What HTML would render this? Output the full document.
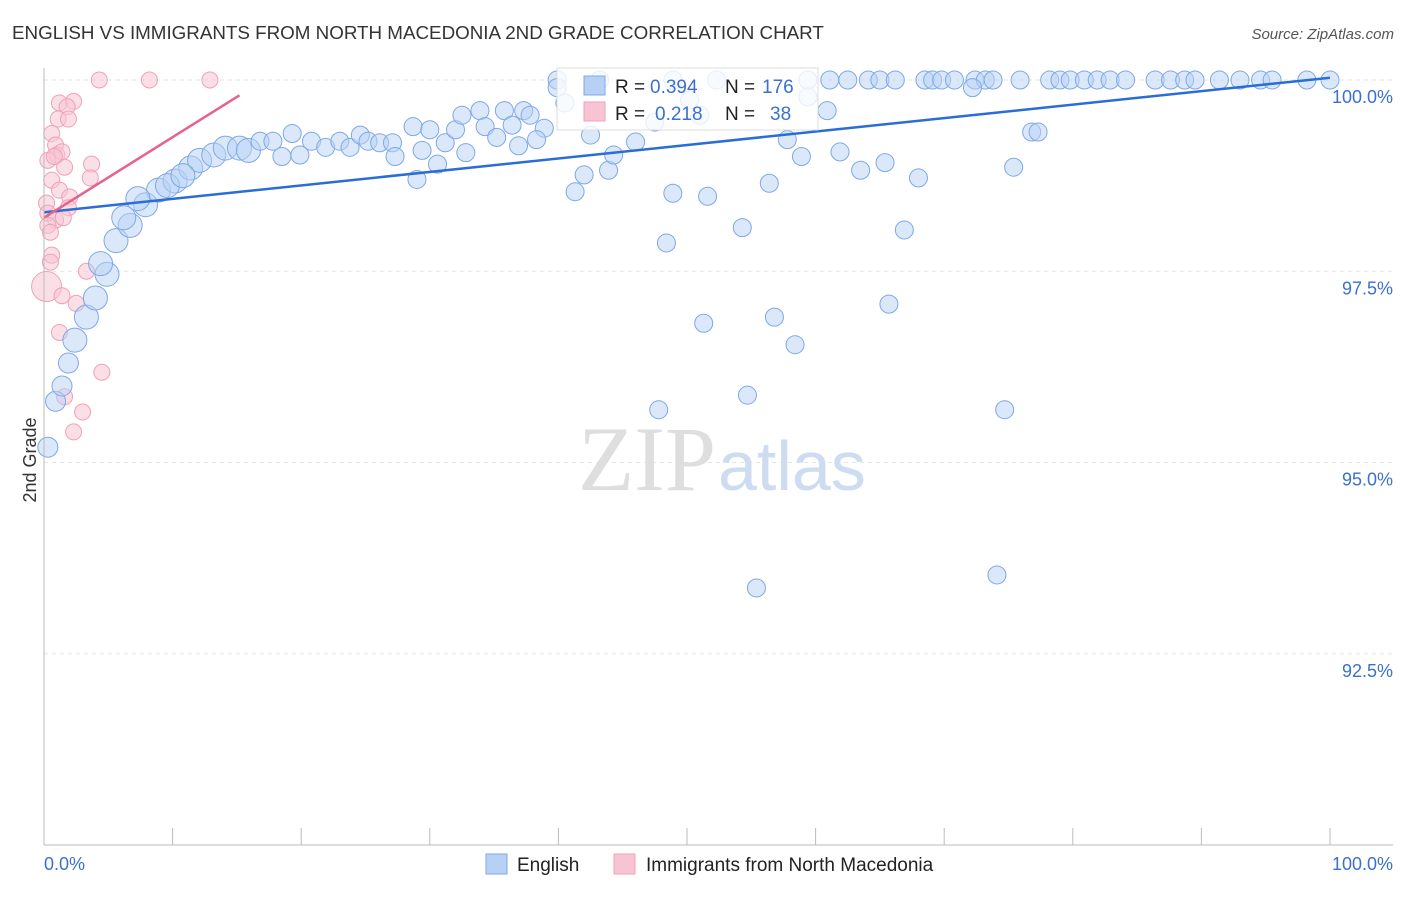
<!DOCTYPE html>
<html><head><meta charset="utf-8"><style>
body{margin:0;background:#fff;font-family:"Liberation Sans",sans-serif;}
</style></head><body>
<svg width="1406" height="892" xmlns="http://www.w3.org/2000/svg" style="font-family:'Liberation Sans',sans-serif">
<text x="12" y="39" font-size="18.8" fill="#333">ENGLISH VS IMMIGRANTS FROM NORTH MACEDONIA 2ND GRADE CORRELATION CHART</text>
<text x="1394" y="39" font-size="15" fill="#555" text-anchor="end" font-style="italic">Source: ZipAtlas.com</text>
<g id="grid"></g>
<text x="716" y="490" font-size="92" fill="#dedede" text-anchor="end" font-family="'Liberation Serif',serif">ZIP</text>
<text x="718" y="490" font-size="70" fill="#cddcf0">atlas</text>
<g id="pts"></g>
<g id="axes"></g>
<text x="36" y="460" font-size="18" fill="#333" text-anchor="middle" transform="rotate(-90 36 460)">2nd Grade</text>
<g>
<rect x="557" y="68" width="261" height="62" fill="#fff" fill-opacity="0.8" stroke="#ddd"/>
<rect x="584" y="76" width="21" height="19" fill="#b7d1f5" stroke="#7ea8e6"/>
<rect x="584" y="102" width="21" height="19" fill="#f8c4d3" stroke="#f0a0b8"/>
<text x="615" y="93" font-size="19" fill="#222">R =</text>
<text x="650" y="93" font-size="19" fill="#3a70d0">0.394</text>
<text x="725" y="93" font-size="19" fill="#222">N =</text>
<text x="762" y="93" font-size="19" fill="#3a70d0">176</text>
<text x="615" y="120" font-size="19" fill="#222">R =</text>
<text x="655" y="120" font-size="19" fill="#3a70d0">0.218</text>
<text x="725" y="120" font-size="19" fill="#222">N =</text>
<text x="770" y="120" font-size="19" fill="#3a70d0">38</text>
</g>
<g>
<rect x="486" y="854" width="21" height="20" fill="#b7d1f5" stroke="#7ea8e6"/>
<text x="517" y="871" font-size="19" fill="#222">English</text>
<rect x="614" y="854" width="21" height="20" fill="#f8c4d3" stroke="#f0a0b8"/>
<text x="646" y="871" font-size="19" fill="#222">Immigrants from North Macedonia</text>
</g>
</svg>
<script>
const yTicks=[100,97.5,95,92.5];
const yTickLabels=["100.0%","97.5%","95.0%","92.5%"];
const blueX=[39.9,43.2,48.9,52.3,59.4,61.1,62.5,64.1,65.0,66.2,68.5,69.1,69.8,70.8,72.4,73.2,73.8,75.9,78.2,79.0,79.8,80.9,81.9,82.9,84.1,86.4,87.6,88.7,89.5,91.4,93.0,94.6,95.5,98.2,100,
0.3,0.9,1.4,1.9,2.4,3.3,4.0,4.9,4.4,5.6,6.7,7.9,8.9,10.2,11.4,12.1,13.2,14.1,15.2,15.9,16.8,17.8,18.5,19.3,19.9,20.8,21.9,23.0,23.8,24.6,25.2,26.1,27.1,27.3,28.7,29.0,29.4,30.0,30.6,31.2,32.0,32.5,32.8,33.9,34.3,35.2,35.8,36.4,36.9,37.3,37.8,38.9,38.3,39.9,40.5,41.3,42.0,42.5,43.9,44.3,46.0,47.5,48.4,48.9,50.2,51.3,51.6,54.3,54.7,55.4,56.4,56.8,57.8,58.4,58.9,59.4,60.9,61.9,63.5,65.4,65.7,66.9,68.0,72.2,74.1,74.7,75.4,76.8,77.3,47.8,51.0,7.3,9.6,10.8,6.2];
const blueY=[100,100,100,100,100,100,100,100,100,100,100,100,100,100,100,100,100,100,100,100,100,100,100,100,100,100,100,100,100,100,100,100,100,100,100,
95.2,95.8,96.0,96.3,96.6,96.9,97.15,97.46,97.6,97.9,98.1,98.37,98.56,98.68,98.85,98.95,99.02,99.11,99.11,99.08,99.2,99.2,99.0,99.3,99.02,99.2,99.12,99.2,99.12,99.28,99.2,99.18,99.18,99.0,99.39,98.7,99.08,99.35,98.9,99.18,99.35,99.54,99.05,99.6,99.39,99.25,99.6,99.41,99.14,99.6,99.54,99.37,99.22,99.9,99.7,98.54,98.76,99.28,98.82,99.02,99.19,99.45,97.87,98.52,99.74,96.82,98.48,98.07,95.88,93.36,98.65,96.9,99.22,96.54,99.0,99.78,99.6,99.06,98.82,98.92,97.07,98.04,98.72,99.9,93.53,95.69,98.86,99.32,99.32,95.69,99.54,98.45,98.62,98.75,98.2];
const pinkX=[4.3,8.2,12.9,1.2,2.3,1.8,1.1,1.9,0.6,0.9,1.0,1.4,3.7,1.6,3.6,0.6,1.2,2.0,1.9,0.2,0.3,0.9,0.3,0.5,0.6,0.5,3.3,0.2,1.4,2.5,1.2,4.5,1.6,3.0,2.3,0.3,0.8,1.5];
const pinkY=[100,100,100,99.7,99.72,99.65,99.49,99.49,99.3,99.15,99.02,99.06,98.9,98.86,98.72,98.69,98.56,98.47,98.33,98.39,98.26,98.17,98.1,98.01,97.71,97.62,97.5,97.3,97.18,97.08,96.7,96.18,95.86,95.66,95.4,98.95,99.0,98.2];
const blueTrend=[98.27,100.03];
const pinkTrend=[98.2,99.8,15.2];
const X=v=>44+v*12.86, Y=v=>80+(100-v)*76.5;
const NS="http://www.w3.org/2000/svg";
function mk(tag,attrs,parent){const e=document.createElementNS(NS,tag);for(const k in attrs)e.setAttribute(k,attrs[k]);parent.appendChild(e);return e;}
const grid=document.getElementById('grid'),axes=document.getElementById('axes'),pts=document.getElementById('pts');
yTicks.forEach((t,i)=>{
 const l=mk('line',{x1:44,x2:1393,y1:Y(t),y2:Y(t),stroke:'#e4e4e4','stroke-dasharray':'4,4'},grid);
 
 
 const tx=mk('text',{x:1393,y:Y(t)+23,'font-size':18,fill:'#3a70d0','text-anchor':'end'},axes);
 tx.textContent=yTickLabels[i];
 
 
});
const xa=mk('line',{x1:44,x2:1393,y1:845,y2:845,stroke:'#bbb'},axes);


const ya=mk('line',{x1:44,x2:44,y1:68,y2:845,stroke:'#bbb'},axes);


for(let i=0;i<=10;i++){const t=mk('line',{x1:X(i*10),x2:X(i*10),y1:828,y2:845,stroke:'#bbb'},axes);
 
 }
[["0.0%",44,'start'],["100.0%",1393,'end']].forEach(a=>{const t=mk('text',{x:a[1],y:870,'font-size':18,fill:'#3a70d0','text-anchor':a[2]},axes);t.textContent=a[0];
 
 });
pinkX.forEach((x,i)=>{const r=(x<0.5&&pinkY[i]<97.5&&pinkY[i]>97.1)?15:8;
 const c=mk('circle',{cx:X(x),cy:Y(pinkY[i]),r:r,fill:'#f8c4d3','fill-opacity':0.55,stroke:'#f0a0b8','stroke-width':1},pts);
 
 });
blueX.forEach((x,i)=>{const r=x<16?(x<2?10:12):9;
 const c=mk('circle',{cx:X(x),cy:Y(blueY[i]),r:r,fill:'#b7d1f5','fill-opacity':0.5,stroke:'#7ea8e6','stroke-width':1},pts);
 
 });
const bl=mk('line',{x1:X(0),y1:Y(blueTrend[0]),x2:X(100),y2:Y(blueTrend[1]),stroke:'#2a6dd6','stroke-width':2.5},pts);


const pl=mk('line',{x1:X(0),y1:Y(pinkTrend[0]),x2:X(pinkTrend[2]),y2:Y(pinkTrend[1]),stroke:'#e8628e','stroke-width':2.5},pts);


</script>
</body></html>
